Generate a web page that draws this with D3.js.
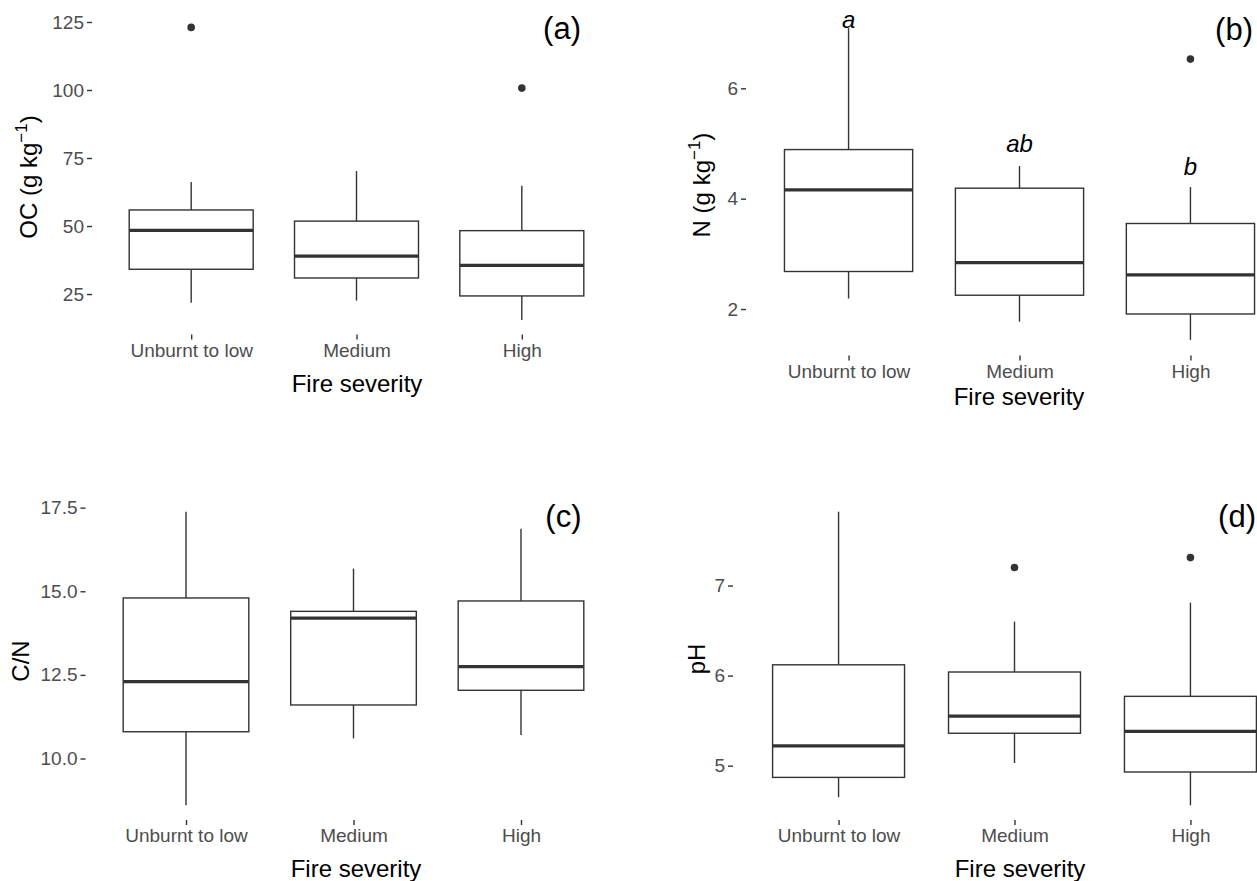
<!DOCTYPE html>
<html>
<head>
<meta charset="utf-8">
<script src="https://cdnjs.cloudflare.com/ajax/libs/d3/7.8.5/d3.min.js"></script>
<style>
body{margin:0;background:#fff;}
svg{display:block;font-family:"Liberation Sans",Arial,Helvetica,sans-serif;}
</style>
</head>
<body>
<svg id="chart" width="1257" height="881"></svg>
<script>
const severity = ["Unburnt to low", "Medium", "High"];

// (a) organic carbon
const ocLower = [21.8, 22.6, 15.5];
const ocQ1 = [34.1, 30.9, 24.3];
const ocMedian = [48.4, 38.9, 35.5];
const ocQ3 = [55.9, 51.8, 48.3];
const ocUpper = [66.2, 70.2, 64.8];
const ocOutliers = [[123], [], [100.7]];
const ocTicks = [25, 50, 75, 100, 125];

// (b) nitrogen
const nLower = [2.19, 1.77, 1.44];
const nQ1 = [2.68, 2.25, 1.91];
const nMedian = [4.16, 2.84, 2.62];
const nQ3 = [4.89, 4.19, 3.55];
const nUpper = [7.09, 4.59, 4.21];
const nOutliers = [[], [], [6.53]];
const nTicks = [2, 4, 6];
const nLetters = ["a", "ab", "b"];
const nLetterY = [7.09, 4.85, 4.43];

// (c) C/N ratio
const cnLower = [8.60, 10.60, 10.70];
const cnQ1 = [10.80, 11.60, 12.04];
const cnMedian = [12.30, 14.20, 12.75];
const cnQ3 = [14.80, 14.40, 14.71];
const cnUpper = [17.38, 15.68, 16.87];
const cnOutliers = [[], [], []];
const cnTicks = [10, 12.5, 15, 17.5];

// (d) pH
const phLower = [4.65, 5.03, 4.56];
const phQ1 = [4.87, 5.36, 4.93];
const phMedian = [5.22, 5.55, 5.38];
const phQ3 = [6.12, 6.04, 5.77];
const phUpper = [7.82, 6.60, 6.81];
const phOutliers = [[], [7.20], [7.31]];
const phTicks = [5, 6, 7];

const svg = d3.select("#chart");

function drawPanel(p) {
  const g = svg.append("g");

  // 1. y domain = data range + 5% each side (ggplot style)
  const all = p.lower.concat(p.upper, p.outliers.flat());
  const ext = d3.extent(all);
  const pad = (ext[1] - ext[0]) * 0.05;
  const y = d3.scaleLinear().domain([ext[0] - pad, ext[1] + pad]).range([p.bottom, p.top]);
  const x = d3.scalePoint().domain(severity).range([p.left, p.right]).padding(0.6);
  const bw = x.step() * 0.75;

  // 2. axes
  const ya = g.append("g")
    .attr("transform", "translate(" + p.left + ",0)")
    .call(d3.axisLeft(y).tickValues(p.ticks).tickFormat(d3.format(p.fmt)).tickSize(5).tickPadding(3));
  const xa = g.append("g")
    .attr("transform", "translate(0," + p.bottom + ")")
    .call(d3.axisBottom(x).tickSize(5).tickPadding(4));
  [ya, xa].forEach(a => {
    a.select(".domain").remove();
    a.selectAll("line").attr("stroke", "#333").attr("stroke-width", 1.4);
    a.selectAll("text").attr("fill", "#4d4d4d").style("font-size", "19px").attr("font-family", null);
  });

  // 3. boxes
  const rows = severity.map((s, i) => ({s: s, lo: p.lower[i], q1: p.q1[i], md: p.median[i], q3: p.q3[i], hi: p.upper[i]}));
  const b = g.selectAll(".box").data(rows).enter().append("g");
  b.append("line").attr("x1", d => x(d.s)).attr("x2", d => x(d.s))
    .attr("y1", d => y(d.q3)).attr("y2", d => y(d.hi));
  b.append("line").attr("x1", d => x(d.s)).attr("x2", d => x(d.s))
    .attr("y1", d => y(d.q1)).attr("y2", d => y(d.lo));
  b.selectAll("line").attr("stroke", "#333").attr("stroke-width", 1.4);
  b.append("rect")
    .attr("x", d => x(d.s) - bw / 2).attr("width", bw)
    .attr("y", d => y(d.q3)).attr("height", d => y(d.q1) - y(d.q3))
    .attr("fill", "#fff").attr("stroke", "#333").attr("stroke-width", 1.4);
  b.append("line")
    .attr("x1", d => x(d.s) - bw / 2).attr("x2", d => x(d.s) + bw / 2)
    .attr("y1", d => y(d.md)).attr("y2", d => y(d.md))
    .attr("stroke", "#333").attr("stroke-width", 3.2);

  // outliers
  const pts = [];
  p.outliers.forEach((o, i) => o.forEach(v => pts.push({s: severity[i], v: v})));
  g.selectAll(".out").data(pts).enter().append("circle")
    .attr("cx", d => x(d.s)).attr("cy", d => y(d.v)).attr("r", 3.8).attr("fill", "#333");

  // significance letters
  if (p.letters) {
    g.selectAll(".let").data(p.letters).enter().append("text")
      .attr("x", (d, i) => x(severity[i])).attr("y", (d, i) => y(p.letterY[i]))
      .attr("text-anchor", "middle").style("font-size", "24px").style("font-style", "italic")
      .text(d => d);
  }

  // 4. titles
  g.append("text").attr("x", p.xtX).attr("y", p.bottom + p.xtDy)
    .attr("text-anchor", "middle").style("font-size", "24px").text("Fire severity");
  const yt = g.append("text")
    .attr("transform", "translate(" + p.ytX + "," + p.ytY + ") rotate(-90)")
    .attr("text-anchor", "middle").style("font-size", "24px");
  yt.append("tspan").text(p.ytitle);
  if (p.sup) {
    yt.append("tspan").attr("dy", -10).style("font-size", "17px").text(p.sup);
    yt.append("tspan").attr("dy", 10).text(")");
  }

  // panel tag
  g.append("text").attr("x", p.right - 40).attr("y", p.top + p.tagDy)
    .attr("text-anchor", "end").style("font-size", "31px").text(p.tag);
}

drawPanel({lower: ocLower, q1: ocQ1, median: ocMedian, q3: ocQ3, upper: ocUpper, outliers: ocOutliers,
  ticks: ocTicks, fmt: "d", left: 92, right: 621, top: 12.8, bottom: 334.5,
  xtX: 357, xtDy: 57.5, ytX: 36.5, ytY: 177, ytitle: "OC (g kg", sup: "\u22121", tag: "(a)", tagDy: 26});

drawPanel({lower: nLower, q1: nQ1, median: nMedian, q3: nQ3, upper: nUpper, outliers: nOutliers,
  ticks: nTicks, fmt: "d", left: 746, right: 1293, top: 12.6, bottom: 355.5,
  letters: nLetters, letterY: nLetterY,
  xtX: 1019, xtDy: 49.5, ytX: 710, ytY: 185, ytitle: "N (g kg", sup: "\u22121", tag: "(b)", tagDy: 27});

drawPanel({lower: cnLower, q1: cnQ1, median: cnMedian, q3: cnQ3, upper: cnUpper, outliers: cnOutliers,
  ticks: cnTicks, fmt: ".1f", left: 85.5, right: 621.5, top: 497, bottom: 820,
  xtX: 356, xtDy: 57, ytX: 29, ytY: 661, ytitle: "C/N", tag: "(c)", tagDy: 30});

drawPanel({lower: phLower, q1: phQ1, median: phMedian, q3: phQ3, upper: phUpper, outliers: phOutliers,
  ticks: phTicks, fmt: "d", left: 733, right: 1296, top: 497, bottom: 820,
  xtX: 1020, xtDy: 57, ytX: 705, ytY: 659, ytitle: "pH", tag: "(d)", tagDy: 30});
</script>
</body>
</html>
